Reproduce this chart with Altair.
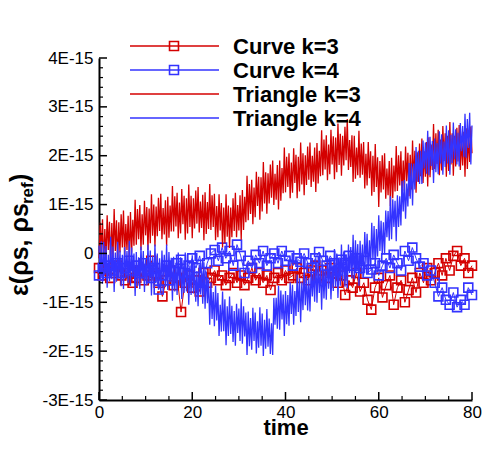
import altair as alt
import pandas as pd

RED = "#d40000"
BLUE = "#3333ff"
FONT = "Liberation Sans"

# ---------------- data (values in units of 0.01E-15) ----------------
# Triangle series: sampled every 0.25 time units from 0 to 80
tri_time = [i * 0.25 for i in range(321)]
tri_k3 = [
    -10, 63, 0, 70, -23, 50, -13, 78, 7, 65, -23, 62, -9, 91, 5, 68, -18, 64, 2, 80,
    12, 88, -4, 60, 7, 77, -15, 85, 2, 69, 16, 110, 18, 91, 29, 99, 7, 80, 18, 108,
    37, 95, 7, 92, 21, 121, 36, 100, 14, 96, 35, 114, 46, 122, 29, 93, 39, 109, 16, 116,
    32, 98, 45, 138, 45, 117, 55, 124, 31, 104, 41, 132, 60, 118, 28, 113, 41, 141, 54, 118,
    31, 113, 51, 129, 61, 136, 43, 106, 52, 120, 27, 125, 40, 105, 50, 142, 48, 119, 54, 122,
    27, 97, 33, 121, 47, 103, 12, 94, 21, 121, 34, 98, 11, 94, 33, 113, 46, 124, 33, 99,
    47, 119, 28, 130, 48, 116, 64, 159, 68, 142, 81, 151, 60, 135, 74, 167, 97, 157, 69, 156,
    86, 187, 102, 166, 81, 164, 102, 182, 114, 190, 99, 163, 110, 181, 90, 190, 108, 175, 123, 217,
    125, 198, 136, 205, 113, 186, 124, 215, 144, 202, 113, 198, 127, 227, 141, 205, 119, 201, 140, 219,
    151, 227, 136, 200, 147, 217, 126, 226, 143, 210, 158, 252, 160, 233, 172, 242, 150, 223, 162, 253,
    182, 240, 152, 237, 166, 266, 181, 245, 159, 241, 180, 259, 191, 275, 171, 232, 177, 242, 146, 241,
    153, 217, 160, 251, 155, 225, 161, 228, 133, 204, 139, 228, 154, 209, 118, 200, 126, 224, 136, 197,
    95, 189, 125, 201, 131, 205, 112, 174, 119, 189, 97, 196, 113, 180, 127, 220, 128, 201, 139, 209,
    117, 190, 128, 219, 148, 206, 117, 202, 131, 231, 146, 210, 124, 207, 146, 225, 158, 235, 144, 209,
    157, 228, 137, 238, 156, 223, 171, 265, 173, 246, 183, 253, 160, 233, 170, 261, 189, 246, 157, 241,
    169, 269, 182, 246, 159, 241, 178, 257, 188, 263, 171, 234, 180, 249, 157, 256, 173, 240, 187, 260,
    205,
]
tri_k4 = [
    16, -55, 25, -62, 24, -44, 15, -70, -3, -57, 34, -53, 14, -79, 2, -58, 24, -52, 6, -67,
    -3, -73, 13, -46, 5, -60, 26, -66, 12, -49, 0, -87, 3, -67, -8, -73, 14, -53, 5, -79,
    -12, -65, 18, -61, 6, -86, -5, -64, 18, -59, 0, -74, -10, -81, 6, -54, -3, -69, 18, -75,
    3, -59, -9, -97, -7, -78, -19, -85, 2, -66, -8, -93, -27, -81, 2, -78, -12, -105, -25, -85,
    -4, -82, -24, -99, -36, -108, -23, -84, -35, -103, -18, -113, -37, -102, -55, -146, -59, -134, -79, -149,
    -66, -137, -81, -169, -105, -160, -78, -159, -94, -188, -108, -169, -88, -165, -107, -181, -118, -189, -103, -163,
    -113, -179, -93, -185, -108, -170, -121, -208, -119, -190, -132, -197, -111, -179, -121, -205, -139, -193, -110, -189,
    -123, -210, -136, -195, -114, -191, -133, -206, -143, -208, -91, -146, -91, -154, -66, -156, -76, -135, -84, -169,
    -77, -145, -85, -148, -59, -124, -64, -146, -77, -128, -43, -120, -51, -141, -59, -116, -32, -106, -46, -117,
    -51, -119, -31, -88, -35, -99, -10, -101, -21, -81, -29, -115, -23, -92, -31, -95, -6, -72, -11, -94,
    -25, -77, 9, -69, 0, -91, -8, -66, 18, -57, 4, -68, -2, -71, 18, -40, 13, -51, 38, -53,
    27, -32, 19, -66, 26, -42, 18, -45, 44, -21, 40, -42, 27, -23, 63, -13, 56, -33, 50, -6,
    78, 5, 67, -3, 64, -2, 88, 33, 87, 26, 117, 29, 111, 54, 108, 25, 119, 54, 117, 57,
    148, 86, 150, 71, 143, 96, 185, 112, 184, 98, 184, 131, 218, 147, 210, 142, 210, 142, 231, 174,
    227, 163, 251, 160, 239, 179, 230, 144, 235, 166, 226, 162, 250, 184, 244, 161, 229, 177, 262, 184,
    252, 161, 243, 185, 268, 193, 254, 182, 247, 178, 267, 209, 261, 198, 286, 196, 275, 216, 288, 182,
    262,
]

# Curve series: sampled every 0.8 time units from 0 to 80
curve_time = [i * 0.8 for i in range(101)]
curve_k3 = [
    -30, -45, -35, -50, -40, -25, -45, -55, -40, -60, -50, -35, -55, -45, -15, -40, -60, -88, -55, -35,
    -65, -50, -120, -60, -45, -70, -55, -78, -40, -60, -50, -35, -55, -45, -65, -50, -40, -60, -45, -65,
    -50, -30, -55, -40, -60, -45, -75, -50, -40, -55, -35, -50, -45, -30, -50, -40, -55, -35, -25, -45,
    -35, -50, -30, -40, -60, -45, -85, -55, -70, -40, -78, -60, -95, -115, -70, -50, -90, -65, -45, -105,
    -70, -55, -100, -75, -50, -80, -40, -60, -30, -55, -40, -20, -45, -10, -35, -5, 5, -25, -10, -40,
    -25,
]
curve_k4 = [
    -45, -30, -40, -25, -35, -20, -40, -30, -15, -35, -25, -40, -20, -35, -50, -30, -74, -45, -25, -55,
    -35, -20, -13, -40, -25, -10, -30, -5, -60, -20, 0, 7, -15, 12, -10, 5, -25, 18, -5, -40,
    -15, -30, -3, -20, 5, -25, -10, 0, -20, 5, -15, -5, -25, -10, -17, 0, -20, -30, -10, 3,
    -15, -25, -5, -20, -35, -13, -20, -5, -25, -10, -30, -15, -40, -33, -20, -45, -25, -10, -30, -3,
    -20, -35, 5, -15, 12, -10, -27, -20, -45, -35, -60, -88, -70, -95, -105, -80, -110, -95, -105, -70,
    -85,
]

legend_names = ["Curve k=3", "Curve k=4", "Triangle k=3", "Triangle k=4"]
x_major = [0, 20, 40, 60, 80]
x_minor = [5, 10, 15, 25, 30, 35, 45, 50, 55, 65, 70, 75]
y_major = [-3, -2, -1, 0, 1, 2, 3, 4]
y_minor = [round(-3 + 0.2 * k, 1) for k in range(36) if k % 5 != 0]

W, H = 373, 342


def frame(times, vals):
    return pd.DataFrame({"t": times, "v": [x / 100.0 for x in vals]})


X = alt.X(
    "t:Q",
    scale=alt.Scale(domain=[0, 80], nice=False, zero=False),
    axis=alt.Axis(
        values=x_major, ticks=False, grid=False, domainWidth=2, domainColor="black",
        labelFont=FONT, labelFontSize=17, labelColor="black", labelPadding=4,
        labelFlush=False, title="time", titleFont=FONT, titleFontSize=22,
        titleFontWeight="bold", titleColor="black", titlePadding=-3,
    ),
)
Y = alt.Y(
    "v:Q",
    scale=alt.Scale(domain=[-3, 4], nice=False, zero=False),
    axis=alt.Axis(
        values=y_major, ticks=False, grid=False, domainWidth=2, domainColor="black",
        labelFont=FONT, labelFontSize=17, labelColor="black", labelPadding=6,
        labelFlush=False, title=None,
        labelExpr="datum.value == 0 ? '0' : datum.value + 'E-15'",
    ),
)

layers = []
# Curves (lines + hollow squares)
for vals, col in [(curve_k3, RED), (curve_k4, BLUE)]:
    base = alt.Chart(frame(curve_time, vals))
    layers.append(base.mark_line(color=col, strokeWidth=1).encode(x=X, y=Y))
    layers.append(
        base.mark_point(shape="square", filled=False, size=80, strokeWidth=1.6, color=col, opacity=1)
        .encode(x=X, y=Y)
    )
# Triangles (noisy lines)
for vals, col in [(tri_k3, RED), (tri_k4, BLUE)]:
    layers.append(
        alt.Chart(frame(tri_time, vals)).mark_line(color=col, strokeWidth=1.3).encode(x=X, y=Y)
    )

# Inward ticks
layers.append(alt.Chart(pd.DataFrame({"t": x_major})).mark_rule(color="black", strokeWidth=1.5)
              .encode(x=X, y=alt.value(H), y2=alt.value(H - 8)))
layers.append(alt.Chart(pd.DataFrame({"t": x_minor})).mark_rule(color="black", strokeWidth=1.2)
              .encode(x=X, y=alt.value(H), y2=alt.value(H - 4)))
layers.append(alt.Chart(pd.DataFrame({"v": y_major})).mark_rule(color="black", strokeWidth=1.5)
              .encode(y=Y, x=alt.value(0), x2=alt.value(8)))
layers.append(alt.Chart(pd.DataFrame({"v": y_minor})).mark_rule(color="black", strokeWidth=1.2)
              .encode(y=Y, x=alt.value(0), x2=alt.value(4)))

# Legend (manual)
one = pd.DataFrame({"a": [0]})
rows = [-12, 12, 36, 60]
cols = [RED, BLUE, RED, BLUE]
for i, (name, col, yy) in enumerate(zip(legend_names, cols, rows)):
    layers.append(alt.Chart(one).mark_rule(color=col, strokeWidth=1.6)
                  .encode(x=alt.value(31), x2=alt.value(120), y=alt.value(yy)))
    if i < 2:
        layers.append(alt.Chart(one).mark_point(shape="square", filled=False, size=80,
                                                strokeWidth=1.6, color=col, opacity=1)
                      .encode(x=alt.value(75), y=alt.value(yy)))
    layers.append(alt.Chart(one).mark_text(text=name, align="left", baseline="middle",
                                           font=FONT, fontSize=22, fontWeight="bold", color="black")
                  .encode(x=alt.value(134), y=alt.value(yy + 1)))

# Y-axis title with subscript
layers.append(alt.Chart(one).mark_text(text="ε(ρs, ρs", angle=270, align="left", baseline="middle",
                                       font=FONT, fontSize=25, fontWeight="bold", color="black")
              .encode(x=alt.value(-79), y=alt.value(238)))
layers.append(alt.Chart(one).mark_text(text="ref", angle=270, align="left", baseline="middle",
                                       font=FONT, fontSize=17, fontWeight="bold", color="black")
              .encode(x=alt.value(-71), y=alt.value(146)))
layers.append(alt.Chart(one).mark_text(text=")", angle=270, align="left", baseline="middle",
                                       font=FONT, fontSize=25, fontWeight="bold", color="black")
              .encode(x=alt.value(-79), y=alt.value(124)))

chart = alt.layer(*layers).properties(
    width=W, height=H,
    padding={"left": 99, "top": 58, "right": 26, "bottom": 49},
    autosize=alt.AutoSizeParams(type="none"),
).configure_view(stroke=None)

chart.save("out.html", embed_options={"renderer": "svg", "actions": False})
